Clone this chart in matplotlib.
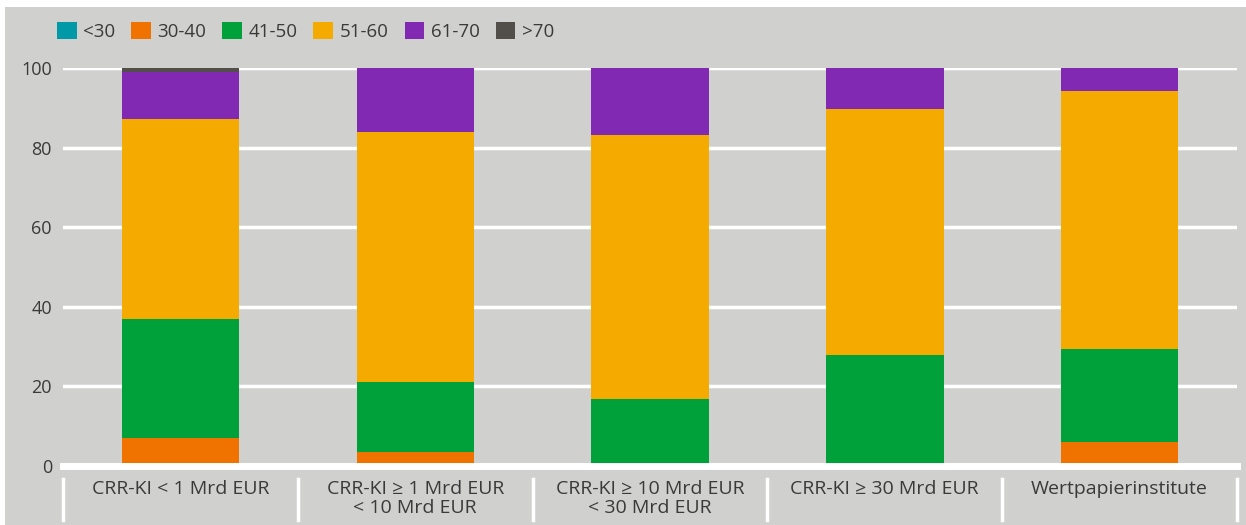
import numpy as np
import matplotlib.pyplot as plt
from matplotlib.patches import Rectangle
import matplotlib.transforms as mtransforms

plt.rcParams['font.family'] = ['Open Sans', 'DejaVu Sans']

# Daten (Anteile in %)
kategorien = ["CRR-KI < 1 Mrd EUR", "CRR-KI ≥ 1 Mrd EUR\n< 10 Mrd EUR",
              "CRR-KI ≥ 10 Mrd EUR\n< 30 Mrd EUR", "CRR-KI ≥ 30 Mrd EUR",
              "Wertpapierinstitute"]
gruppen = ["<30", "30-40", "41-50", "51-60", "61-70", ">70"]
u30 = [0, 0, 0, 0, 0]
g30_40 = [7.0, 3.5, 0, 0, 6.0]
g41_50 = [29.9, 17.6, 16.8, 27.9, 23.4]
g51_60 = [50.3, 62.8, 66.4, 61.8, 64.8]
g61_70 = [11.8, 16.1, 16.8, 10.3, 5.8]
ue70 = [1.0, 0, 0, 0, 0]
farben = ["#0099a8", "#f07300", "#00a03a", "#f5aa00", "#8229b3", "#524e4a"]

werte = [u30, g30_40, g41_50, g51_60, g61_70, ue70]

hintergrund = "#d0d0ce"
textfarbe = "#3a3a3a"

fig = plt.figure(figsize=(12.46, 5.25), dpi=100, facecolor="white")
fig.patches.append(Rectangle((5 / 1246, 0), 1, 518 / 525, transform=fig.transFigure,
                             facecolor=hintergrund, edgecolor="none", zorder=-10))

ax = fig.add_axes([63 / 1246, 1 - 466 / 525, 1174 / 1246, 398 / 525])
ax.set_facecolor(hintergrund)

x = np.arange(len(kategorien))
unten = np.zeros(len(kategorien))
for name, w, c in zip(gruppen, werte, farben):
    ax.bar(x, w, bottom=unten, width=0.5, color=c, label=name, zorder=3)
    unten += np.array(w)

ax.set_xlim(-0.5, len(kategorien) - 0.5)
ax.set_ylim(0, 100)
ax.set_yticks([0, 20, 40, 60, 80, 100])
ax.yaxis.grid(True, color="white", linewidth=2.5, zorder=1)
ax.axhline(0, color="white", linewidth=5, zorder=4, clip_on=False)
for s in ax.spines.values():
    s.set_visible(False)

ax.set_xticks(x)
ax.set_xticklabels(kategorien, fontsize=14, color=textfarbe, va="top", linespacing=1.1)
ax.tick_params(axis="x", length=0, pad=10)
ax.tick_params(axis="y", length=0, pad=8, labelsize=13, labelcolor=textfarbe)

# Trennlinien unter der Achse
trans = mtransforms.blended_transform_factory(ax.transData, ax.transAxes)
for xs in np.arange(-0.5, len(kategorien)):
    ax.plot([xs, xs], [-0.033, -0.136], color="white", linewidth=2.5,
            transform=trans, clip_on=False)

leg = fig.legend(loc="upper left", bbox_to_anchor=(40 / 1246, 1 - 5 / 525), ncol=6,
                 frameon=False, fontsize=13.5, handlelength=1.05, handleheight=1.0,
                 columnspacing=0.85, handletextpad=0.35, labelcolor=textfarbe)

fig.savefig("out.png", dpi=100, facecolor=fig.get_facecolor())
